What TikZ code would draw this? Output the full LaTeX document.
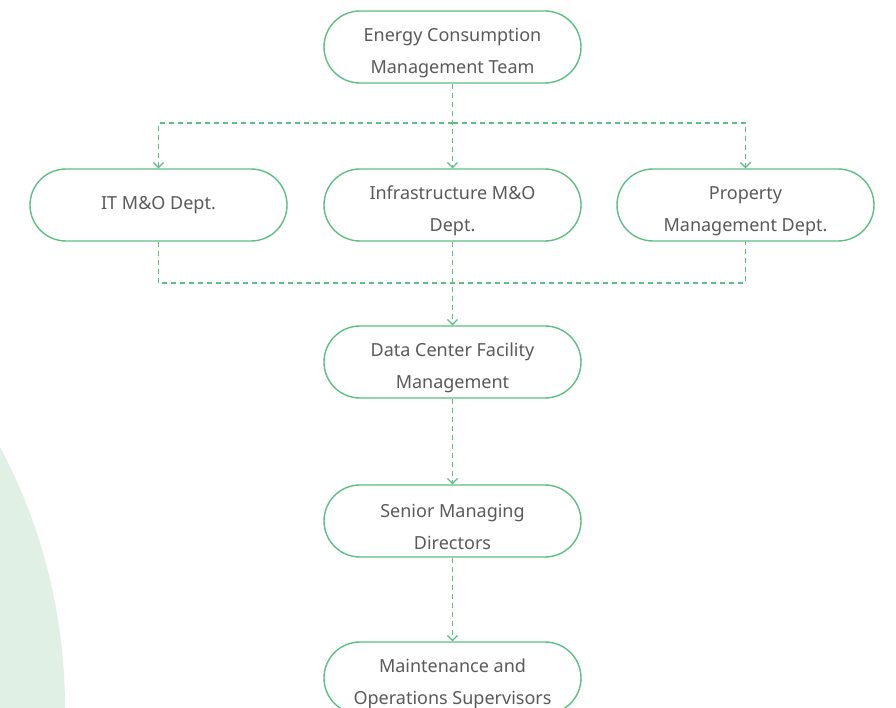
\documentclass[tikz,border=0pt]{standalone}
\usepackage{fontspec}
\setmainfont{Noto Sans}
\usetikzlibrary{arrows.meta}
\definecolor{gline}{HTML}{5CBF83}
\definecolor{gfill}{HTML}{E0F0E4}
\definecolor{gtext}{HTML}{5A5A5A}
\newcommand\dnstrut{\rule{0pt}{25pt}}
\tikzset{
  box/.style={draw=gline, line width=1.4pt, fill=white, rounded corners=36pt,
    minimum width=257pt, minimum height=72pt, inner sep=0pt, align=center,
    text=gtext, font=\fontsize{18}{32}\selectfont},
  conn/.style={draw=gline, line width=1.3pt, dash pattern=on 5pt off 4pt},
  tip/.style={-{Straight Barb[length=5pt,width=10pt,line width=1.2pt]}}
}
\begin{document}
\begin{tikzpicture}[x=1pt,y=-1pt]
\useasboundingbox (0,0) rectangle (896,708);
\clip (0,0) rectangle (896,708);
\fill[gfill] (-491,708) circle (556);
\node[box] (top) at (452.5,47) {\dnstrut Energy Consumption\\Management Team};
\node[box] (it) at (158.5,205) {IT M\&O Dept.};
\node[box] (infra) at (452.5,205) {\dnstrut Infrastructure M\&O\\Dept.};
\node[box] (prop) at (745.5,205) {\dnstrut Property\\Management Dept.};
\node[box] (dc) at (452.5,362) {\dnstrut Data Center Facility\\Management};
\node[box] (sen) at (452.5,521) {\dnstrut Senior Managing\\Directors};
\node[box] (mai) at (452.5,678) {\dnstrut Maintenance and\\Operations Supervisors};
\coordinate (j1) at (452.5,123);
\coordinate (j2) at (452.5,283);
\draw[conn,tip] (top.south) -- (infra.north);
\draw[conn,tip] (j1) -| (it.north);
\draw[conn,tip] (j1) -| (prop.north);
\draw[conn] (it.south) -- (it.south |- j2) -- (prop.south |- j2) -- (prop.south);
\draw[conn,tip] (infra.south) -- (dc.north);
\draw[conn,tip] (dc.south) -- (sen.north);
\draw[conn,tip] (sen.south) -- (mai.north);
\end{tikzpicture}
\end{document}
